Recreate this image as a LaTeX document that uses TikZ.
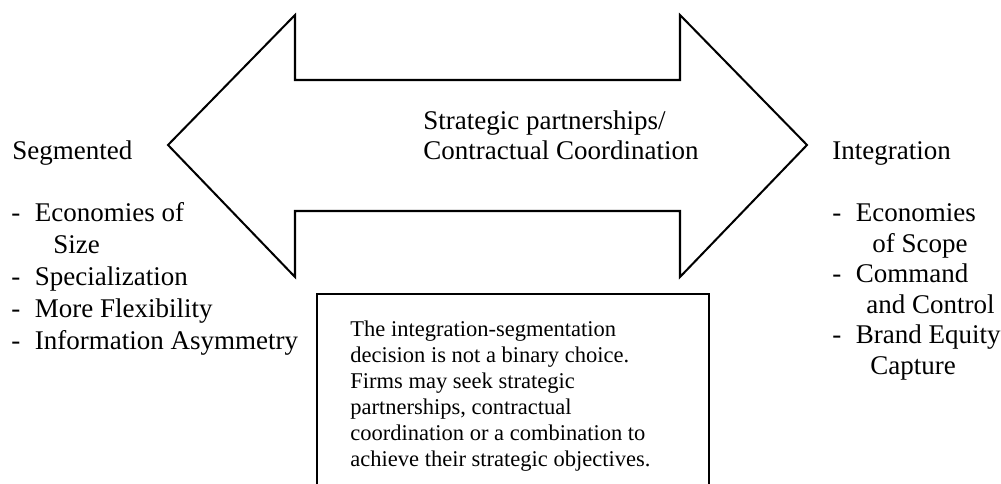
\documentclass[tikz,border=0pt]{standalone}
\usepackage{fontspec}
\setmainfont{Liberation Serif}
\usetikzlibrary{positioning}

\newcommand{\itemdash}{\makebox[10.4pt][l]{-}}

\begin{document}
\begin{tikzpicture}[
	x=0.4444pt,
	y=-0.4444pt,
	side/.style={
		anchor=base west,
		inner sep=0pt,
		font=\fontsize{12}{14}\selectfont
	},
	note/.style={
		anchor=base west,
		inner sep=0pt,
		font=\fontsize{10}{12}\selectfont
	},
	notebox/.style={
		rectangle,
		draw=black,
		line width=0.7pt,
		anchor=north west,
		minimum width=174.2pt,
		minimum height=95pt
	},
]

\useasboundingbox (0,0) rectangle (1001,484);
\clip (0,0) rectangle (1001,484);

% double arrow
\draw[line width=0.9pt, line join=miter] (168,145) -- (295,15) -- (295,80) -- (680,80)
	-- (680,15) -- (807,145) -- (680,277) -- (680,211) -- (295,211) -- (295,277) -- cycle;

\node[side] (middle1) at (423,130) {Strategic partnerships/};
\node[side] (middle2) at (423,160) {Contractual Coordination};

% left side
\node[side] (segmented) at (12,160) {Segmented};
\node[side] (size1) at (11,222) {\itemdash Economies of};
\node[side] (size2) at (53,254) {Size};
\node[side] (special) at (11,286) {\itemdash Specialization};
\node[side] (flexible) at (11,318) {\itemdash More Flexibility};
\node[side] (asymmetry) at (11,350) {\itemdash Information Asymmetry};

% right side
\node[side] (integration) at (832,160) {Integration};
\node[side] (scope1) at (832,222) {\itemdash Economies};
\node[side] (scope2) at (872,252.5) {of Scope};
\node[side] (command1) at (832,283) {\itemdash Command};
\node[side] (command2) at (866,313.5) {and Control};
\node[side] (brand1) at (832,344) {\itemdash Brand Equity};
\node[side] (brand2) at (870,374.5) {Capture};

% note
\node[notebox] (NoteBox) at (316,293) {};
\node[note] (note1) at (350,336.5) {The integration-segmentation};
\node[note] (note2) at (350,362.5) {decision is not a binary choice.};
\node[note] (note3) at (350,388.5) {Firms may seek strategic};
\node[note] (note4) at (350,414.5) {partnerships, contractual};
\node[note] (note5) at (350,440.5) {coordination or a combination to};
\node[note] (note6) at (350,466.5) {achieve their strategic objectives.};

\end{tikzpicture}
\end{document}
